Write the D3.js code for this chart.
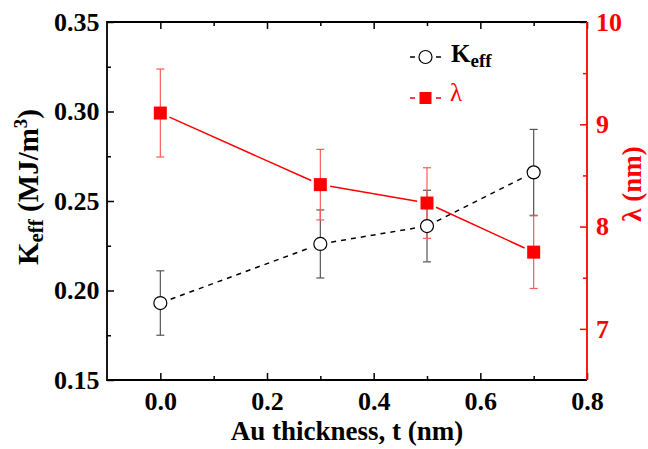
<!DOCTYPE html>
<html>
<head>
<meta charset="utf-8">
<script src="https://cdn.jsdelivr.net/npm/d3@7"></script>
<style>
  body { margin: 0; background: #fff; }
  svg text { font-family: 'Liberation Serif', 'Times New Roman', serif !important; }
  .domain { display: none; }
</style>
</head>
<body>
<div id="chart"></div>
<script>
// Data
const thickness = [0.0, 0.3, 0.5, 0.7];
const keff = [0.193, 0.226, 0.236, 0.266];
const keffErr = [0.018, 0.019, 0.020, 0.024];
const lambda = [9.11, 8.41, 8.23, 7.75];
const lambdaErr = [0.43, 0.345, 0.345, 0.355];

const xTicks = [0.0, 0.2, 0.4, 0.6, 0.8];
const xMinor = [0.1, 0.3, 0.5, 0.7];
const yTicks = [0.15, 0.20, 0.25, 0.30, 0.35];
const yMinor = [0.175, 0.225, 0.275, 0.325];
const y2Ticks = [7, 8, 9, 10];
const y2Minor = [7.5, 8.5, 9.5];

const width = 648, height = 449;
const margin = {top: 22, right: 61, bottom: 69, left: 107};
const red = "#ff0000";
const font = "'Liberation Serif', 'Times New Roman', serif";

const svg = d3.select("#chart").append("svg")
    .attr("width", width)
    .attr("height", height)
    .attr("font-family", font);

const x = d3.scaleLinear().domain([-0.1, 0.8]).range([margin.left, width - margin.right]);
const y = d3.scaleLinear().domain([0.15, 0.35]).range([height - margin.bottom, margin.top]);
const y2 = d3.scaleLinear().domain([6.5, 10]).range([height - margin.bottom, margin.top]);

const x0 = margin.left, x1 = width - margin.right;
const yb = height - margin.bottom, yt = margin.top;

// Axes (ticks pointing inward)
svg.append("g")
    .attr("transform", `translate(0,${yb})`)
    .call(d3.axisBottom(x).tickValues(xTicks).tickSize(-7).tickPadding(11.5).tickFormat(d3.format(".1f")));
svg.append("g")
    .attr("transform", `translate(0,${yb})`)
    .call(d3.axisBottom(x).tickValues(xMinor).tickSize(-4).tickFormat(""));
svg.append("g")
    .attr("transform", `translate(0,${yt})`)
    .call(d3.axisTop(x).tickValues(xTicks).tickSize(-7).tickFormat(""));
svg.append("g")
    .attr("transform", `translate(0,${yt})`)
    .call(d3.axisTop(x).tickValues(xMinor).tickSize(-4).tickFormat(""));

svg.append("g")
    .attr("transform", `translate(${x0},0)`)
    .call(d3.axisLeft(y).tickValues(yTicks).tickSize(-7).tickPadding(7.5).tickFormat(d3.format(".2f")));
svg.append("g")
    .attr("transform", `translate(${x0},0)`)
    .call(d3.axisLeft(y).tickValues(yMinor).tickSize(-4).tickFormat(""));

const rightAxis = svg.append("g")
    .attr("transform", `translate(${x1},0)`)
    .call(d3.axisRight(y2).tickValues(y2Ticks).tickSize(-7).tickPadding(9).tickFormat(d3.format("d")));
const rightMinor = svg.append("g")
    .attr("transform", `translate(${x1},0)`)
    .call(d3.axisRight(y2).tickValues(y2Minor).tickSize(-4).tickFormat(""));

svg.selectAll("g").attr("font-family", font);
svg.selectAll(".tick line").attr("stroke", "#000").attr("stroke-width", 1.5);
svg.selectAll(".tick text")
    .attr("font-size", 26)
    .attr("font-weight", "bold")
    .attr("fill", "#000");
rightAxis.selectAll(".tick line").attr("stroke", red);
rightMinor.selectAll(".tick line").attr("stroke", red);
rightAxis.selectAll(".tick text").attr("fill", red);

// Frame
svg.append("path")
    .attr("d", `M${x1},${yt}H${x0}V${yb}H${x1}`)
    .attr("fill", "none").attr("stroke", "#000").attr("stroke-width", 1.8);
svg.append("line")
    .attr("x1", x1).attr("x2", x1).attr("y1", yt).attr("y2", yb)
    .attr("stroke", red).attr("stroke-width", 1.8);

// Helper: segments between consecutive points with a gap around markers
function gappedSegments(pts, gap) {
  const segs = [];
  for (let i = 0; i < pts.length - 1; i++) {
    const [ax, ay] = pts[i], [bx, by] = pts[i + 1];
    const dx = bx - ax, dy = by - ay, L = Math.hypot(dx, dy);
    const ux = dx / L, uy = dy / L;
    segs.push([ax + ux * gap, ay + uy * gap, bx - ux * gap, by - uy * gap]);
  }
  return segs;
}

const keffPts = thickness.map((t, i) => [x(t), y(keff[i])]);
const lamPts = thickness.map((t, i) => [x(t), y2(lambda[i])]);

// Error bars
function errorBars(vals, errs, scale, color) {
  const g = svg.append("g").attr("stroke", color).attr("stroke-width", 1.2);
  thickness.forEach((t, i) => {
    const cx = x(t), top = scale(vals[i] + errs[i]), bot = scale(vals[i] - errs[i]);
    g.append("line").attr("x1", cx).attr("x2", cx).attr("y1", top).attr("y2", bot);
    g.append("line").attr("x1", cx - 4).attr("x2", cx + 4).attr("y1", top).attr("y2", top);
    g.append("line").attr("x1", cx - 4).attr("x2", cx + 4).attr("y1", bot).attr("y2", bot);
  });
}
errorBars(keff, keffErr, y, "#555");
errorBars(lambda, lambdaErr, y2, "#ff5a5a");

// Lines
svg.append("g").selectAll("line")
    .data(gappedSegments(keffPts, 11))
    .join("line")
    .attr("x1", d => d[0]).attr("y1", d => d[1]).attr("x2", d => d[2]).attr("y2", d => d[3])
    .attr("stroke", "#000").attr("stroke-width", 1.5).attr("stroke-dasharray", "5,5");
svg.append("g").selectAll("line")
    .data(gappedSegments(lamPts, 10))
    .join("line")
    .attr("x1", d => d[0]).attr("y1", d => d[1]).attr("x2", d => d[2]).attr("y2", d => d[3])
    .attr("stroke", red).attr("stroke-width", 1.5);

// Markers
svg.append("g").selectAll("circle")
    .data(keffPts)
    .join("circle")
    .attr("cx", d => d[0]).attr("cy", d => d[1]).attr("r", 6.5)
    .attr("fill", "#fff").attr("stroke", "#000").attr("stroke-width", 1.2);
svg.append("g").selectAll("rect")
    .data(lamPts)
    .join("rect")
    .attr("x", d => d[0] - 6.5).attr("y", d => d[1] - 6.5)
    .attr("width", 13).attr("height", 13)
    .attr("fill", red);

// Legend
const lg = svg.append("g");
lg.append("line").attr("x1", 410).attr("x2", 415).attr("y1", 57).attr("y2", 57).attr("stroke", "#000").attr("stroke-width", 1.5);
lg.append("line").attr("x1", 436).attr("x2", 441).attr("y1", 57).attr("y2", 57).attr("stroke", "#000").attr("stroke-width", 1.5);
lg.append("circle").attr("cx", 425.5).attr("cy", 57).attr("r", 6.5).attr("fill", "#fff").attr("stroke", "#000").attr("stroke-width", 1.2);
const kt = lg.append("text").attr("x", 451).attr("y", 62).attr("font-size", 25).attr("font-weight", "bold");
kt.append("tspan").text("K");
kt.append("tspan").attr("dy", 5).attr("font-size", 19).text("eff");

lg.append("line").attr("x1", 410).attr("x2", 415).attr("y1", 98).attr("y2", 98).attr("stroke", red).attr("stroke-width", 1.5);
lg.append("line").attr("x1", 436).attr("x2", 441).attr("y1", 98).attr("y2", 98).attr("stroke", red).attr("stroke-width", 1.5);
lg.append("rect").attr("x", 419.5).attr("y", 92).attr("width", 12).attr("height", 12).attr("fill", red);
lg.append("text").attr("x", 450).attr("y", 101).attr("font-size", 25).attr("fill", red).text("λ");

// Axis titles
svg.append("text")
    .attr("x", 347).attr("y", 440)
    .attr("text-anchor", "middle").attr("font-size", 27).attr("font-weight", "bold")
    .text("Au thickness, t (nm)");

const yl = svg.append("text")
    .attr("transform", "translate(38,187) rotate(-90)")
    .attr("text-anchor", "middle").attr("font-size", 29).attr("font-weight", "bold");
yl.append("tspan").text("K");
yl.append("tspan").attr("dy", 5).attr("font-size", 21).text("eff");
yl.append("tspan").attr("dy", -5).text(" (MJ/m");
yl.append("tspan").attr("dy", -11).attr("font-size", 19).text("3");
yl.append("tspan").attr("dy", 11).text(")");

svg.append("text")
    .attr("transform", "translate(641,184) rotate(-90)")
    .attr("text-anchor", "middle").attr("font-size", 27).attr("font-weight", "bold").attr("fill", red)
    .text("λ (nm)");
</script>
</body>
</html>
